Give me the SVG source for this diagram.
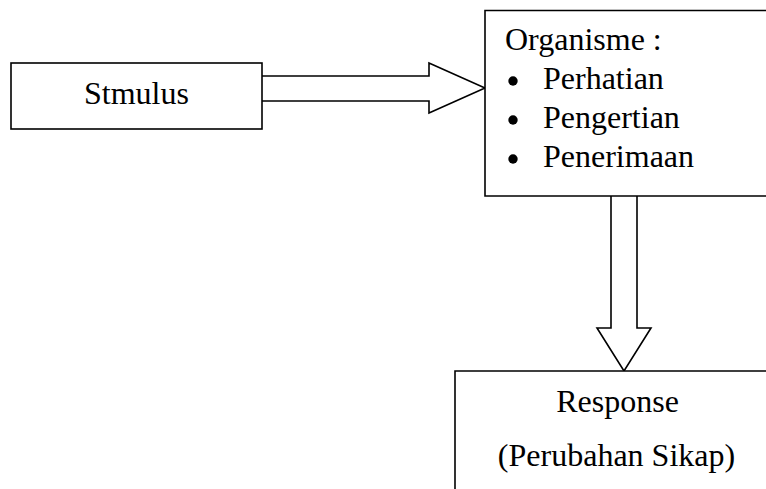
<svg xmlns="http://www.w3.org/2000/svg" width="766" height="489" viewBox="0 0 766 489">
<style>
.box{fill:#fff;stroke:#000;stroke-width:1.6}
.arr{fill:#fff;stroke:#000;stroke-width:1.6;stroke-linejoin:miter}
.t{font-family:"Liberation Serif","Times New Roman",serif;font-size:32px;fill:#000}
.mid{text-anchor:middle}
</style>
<rect width="766" height="489" fill="#fff"/>
<g id="connectors">
<path class="arr" d="M262,76 H429 V63 L485,88 L429,113 V101 H262"/>
<path class="arr" d="M611,196 V328 H597 L624,371 L651,328 H637 V196"/>
</g>
<g id="stimulus">
<rect class="box" x="11" y="63" width="251" height="66"/>
<text class="t mid" x="136.5" y="104">Stmulus</text>
</g>
<g id="organisme">
<path class="box" d="M790,10.5 H485 V196 H790"/>
<text class="t" x="505" y="50">Organisme :</text>
<circle cx="513" cy="81" r="4.7"/>
<circle cx="513" cy="120" r="4.7"/>
<circle cx="513" cy="159" r="4.7"/>
<text class="t" x="543" y="89">Perhatian</text>
<text class="t" x="543" y="128">Pengertian</text>
<text class="t" x="543" y="167">Penerimaan</text>
</g>
<g id="response">
<path class="box" d="M455,500 V371 H790"/>
<text class="t mid" x="617.5" y="412">Response</text>
<text class="t mid" x="616.5" y="466">(Perubahan Sikap)</text>
</g>
</svg>
